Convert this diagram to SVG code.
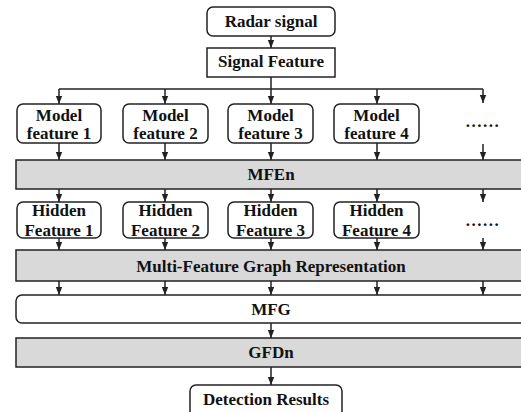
<svg xmlns="http://www.w3.org/2000/svg" width="521" height="412" viewBox="0 0 521 412">
<style>
.box{fill:#fff;stroke:#222;stroke-width:1.5}
.gray{fill:#d9d9d9;stroke:#222;stroke-width:1.5}
.t{font-family:"Liberation Serif","Times New Roman",serif;font-weight:bold;font-size:17px;fill:#111;text-anchor:middle}
.d{letter-spacing:1.5px}
.c{stroke:#222;stroke-width:1.5;fill:none}
.a{marker-end:url(#ah)}
</style>
<defs>
<marker id="ah" markerUnits="userSpaceOnUse" markerWidth="8" markerHeight="8" viewBox="0 0 8 8" refX="8" refY="4" orient="auto">
<path d="M0,0.8 L8,4 L0,7.2 Z" fill="#222"/>
</marker>
</defs>
<rect width="521" height="412" fill="#fff"/>
<g id="connectors">
<line class="c a" x1="271" y1="36" x2="271" y2="48"/>
<line class="c" x1="271" y1="77" x2="271" y2="89"/>
<line class="c" x1="59" y1="89" x2="483" y2="89"/>
<line class="c a" x1="59" y1="89" x2="59" y2="104"/>
<line class="c a" x1="165" y1="89" x2="165" y2="104"/>
<line class="c a" x1="271" y1="89" x2="271" y2="104"/>
<line class="c a" x1="377" y1="89" x2="377" y2="104"/>
<line class="c a" x1="483" y1="89" x2="483" y2="103"/>
<line class="c a" x1="59" y1="143" x2="59" y2="160"/>
<line class="c a" x1="165" y1="143" x2="165" y2="160"/>
<line class="c a" x1="271" y1="143" x2="271" y2="160"/>
<line class="c a" x1="377" y1="143" x2="377" y2="160"/>
<line class="c a" x1="483" y1="144" x2="483" y2="160"/>
<line class="c a" x1="59" y1="189" x2="59" y2="202"/>
<line class="c a" x1="165" y1="189" x2="165" y2="202"/>
<line class="c a" x1="271" y1="189" x2="271" y2="202"/>
<line class="c a" x1="377" y1="189" x2="377" y2="202"/>
<line class="c a" x1="483" y1="189" x2="483" y2="202"/>
<line class="c a" x1="59" y1="238" x2="59" y2="250"/>
<line class="c a" x1="165" y1="238" x2="165" y2="250"/>
<line class="c a" x1="271" y1="238" x2="271" y2="250"/>
<line class="c a" x1="377" y1="238" x2="377" y2="250"/>
<line class="c a" x1="483" y1="238" x2="483" y2="250"/>
<line class="c a" x1="59" y1="281" x2="59" y2="295"/>
<line class="c a" x1="165" y1="281" x2="165" y2="295"/>
<line class="c a" x1="271" y1="281" x2="271" y2="295"/>
<line class="c a" x1="377" y1="281" x2="377" y2="295"/>
<line class="c a" x1="483" y1="281" x2="483" y2="295"/>
<line class="c a" x1="271" y1="323" x2="271" y2="338"/>
<line class="c a" x1="271" y1="367" x2="271" y2="385"/>
</g>
<g id="radar"><rect class="box" x="207" y="7" width="128" height="29" rx="6"/><text class="t" x="271" y="27">Radar signal</text></g>
<g id="signal"><rect class="box" x="207" y="48" width="128" height="29"/><text class="t" x="271" y="67">Signal Feature</text></g>
<g id="mf1"><rect class="box" x="17" y="104" width="84" height="39" rx="6"/><text class="t" x="59" y="121">Model</text><text class="t" x="59" y="139">feature 1</text></g>
<g id="mf2"><rect class="box" x="123" y="104" width="85" height="39" rx="6"/><text class="t" x="165.5" y="121">Model</text><text class="t" x="165.5" y="139">feature 2</text></g>
<g id="mf3"><rect class="box" x="228" y="104" width="85" height="39" rx="6"/><text class="t" x="270.5" y="121">Model</text><text class="t" x="270.5" y="139">feature 3</text></g>
<g id="mf4"><rect class="box" x="334" y="104" width="85" height="39" rx="6"/><text class="t" x="376.5" y="121">Model</text><text class="t" x="376.5" y="139">feature 4</text></g>
<g id="dots1"><text class="t d" x="483" y="127">......</text></g>
<g id="mfen"><rect class="gray" x="16" y="160" width="520" height="29"/><text class="t" x="271" y="180">MFEn</text></g>
<g id="hf1"><rect class="box" x="17" y="202" width="84" height="36" rx="6"/><text class="t" x="59" y="216">Hidden</text><text class="t" x="59" y="236">Feature 1</text></g>
<g id="hf2"><rect class="box" x="123" y="202" width="85" height="36" rx="6"/><text class="t" x="165.5" y="216">Hidden</text><text class="t" x="165.5" y="236">Feature 2</text></g>
<g id="hf3"><rect class="box" x="228" y="202" width="85" height="36" rx="6"/><text class="t" x="270.5" y="216">Hidden</text><text class="t" x="270.5" y="236">Feature 3</text></g>
<g id="hf4"><rect class="box" x="334" y="202" width="85" height="36" rx="6"/><text class="t" x="376.5" y="216">Hidden</text><text class="t" x="376.5" y="236">Feature 4</text></g>
<g id="dots2"><text class="t d" x="483" y="226">......</text></g>
<g id="mfgr"><rect class="gray" x="16" y="250" width="520" height="31"/><text class="t" x="271" y="272">Multi-Feature Graph Representation</text></g>
<g id="mfg"><rect class="box" x="16" y="295" width="520" height="28" rx="6"/><text class="t" x="271" y="315">MFG</text></g>
<g id="gfdn"><rect class="gray" x="16" y="338" width="520" height="29"/><text class="t" x="271" y="358">GFDn</text></g>
<g id="det"><rect class="box" x="190" y="385" width="152" height="32" rx="6"/><text class="t" x="266" y="405">Detection Results</text></g>
</svg>
